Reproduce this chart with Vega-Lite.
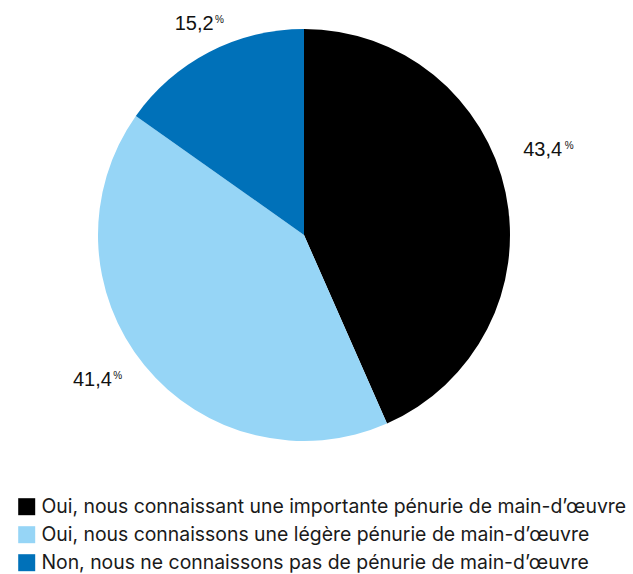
{
  "$schema": "https://vega.github.io/schema/vega-lite/v6.json",
  "autosize": {"type": "none"},
  "width": 598,
  "height": 460,
  "padding": {"left": 5, "top": 5, "right": 30, "bottom": 109},
  "background": "white",
  "view": {"stroke": null},
  "data": {
    "values": [
      {"reponse": "Oui, nous connaissant une importante pénurie de main-d’œuvre", "part": 43.4, "label": "43,4", "rang": 1},
      {"reponse": "Oui, nous connaissons une légère pénurie de main-d’œuvre", "part": 41.4, "label": "41,4", "rang": 2},
      {"reponse": "Non, nous ne connaissons pas de pénurie de main-d’œuvre", "part": 15.2, "label": "15,2", "rang": 3}
    ]
  },
  "encoding": {
    "theta": {"field": "part", "type": "quantitative", "stack": true},
    "order": {"field": "rang", "type": "quantitative"}
  },
  "layer": [
    {
      "mark": {"type": "arc", "outerRadius": 206},
      "encoding": {
        "color": {
          "field": "reponse",
          "type": "nominal",
          "sort": null,
          "scale": {
            "domain": [
              "Oui, nous connaissant une importante pénurie de main-d’œuvre",
              "Oui, nous connaissons une légère pénurie de main-d’œuvre",
              "Non, nous ne connaissons pas de pénurie de main-d’œuvre"
            ],
            "range": ["#000000", "#96d5f6", "#0071b9"]
          },
          "legend": {
            "title": null,
            "orient": "none",
            "legendX": 12,
            "legendY": 492,
            "symbolType": "square",
            "symbolSize": 289,
            "symbolStrokeWidth": 0,
            "symbolOpacity": 1,
            "labelFont": "Inter",
            "labelFontSize": 19.4,
            "labelColor": "#1a1a1a",
            "labelOffset": 5,
            "labelLimit": 700,
            "rowPadding": 7,
            "padding": 0
          }
        }
      }
    },
    {
      "mark": {"type": "text", "radius": 250, "dx": -6, "dy": -34, "font": "Liberation Sans", "fontSize": 20, "color": "#111111", "align": "center", "baseline": "middle"},
      "encoding": {"text": {"condition": {"test": "datum.rang == 1", "field": "label"}, "value": ""}}
    },
    {
      "mark": {"type": "text", "radius": 250, "dx": 16, "dy": -38, "font": "Liberation Sans", "fontSize": 10, "color": "#111111", "align": "left", "baseline": "middle"},
      "encoding": {"text": {"condition": {"test": "datum.rang == 1", "value": "%"}, "value": ""}}
    },
    {
      "mark": {"type": "text", "radius": 250, "dx": -18, "dy": -13, "font": "Liberation Sans", "fontSize": 20, "color": "#111111", "align": "center", "baseline": "middle"},
      "encoding": {"text": {"condition": {"test": "datum.rang == 2", "field": "label"}, "value": ""}}
    },
    {
      "mark": {"type": "text", "radius": 250, "dx": 3, "dy": -17, "font": "Liberation Sans", "fontSize": 10, "color": "#111111", "align": "left", "baseline": "middle"},
      "encoding": {"text": {"condition": {"test": "datum.rang == 2", "value": "%"}, "value": ""}}
    },
    {
      "mark": {"type": "text", "radius": 250, "dx": 5, "dy": 11, "font": "Liberation Sans", "fontSize": 20, "color": "#111111", "align": "center", "baseline": "middle"},
      "encoding": {"text": {"condition": {"test": "datum.rang == 3", "field": "label"}, "value": ""}}
    },
    {
      "mark": {"type": "text", "radius": 250, "dx": 26, "dy": 7, "font": "Liberation Sans", "fontSize": 10, "color": "#111111", "align": "left", "baseline": "middle"},
      "encoding": {"text": {"condition": {"test": "datum.rang == 3", "value": "%"}, "value": ""}}
    }
  ]
}
